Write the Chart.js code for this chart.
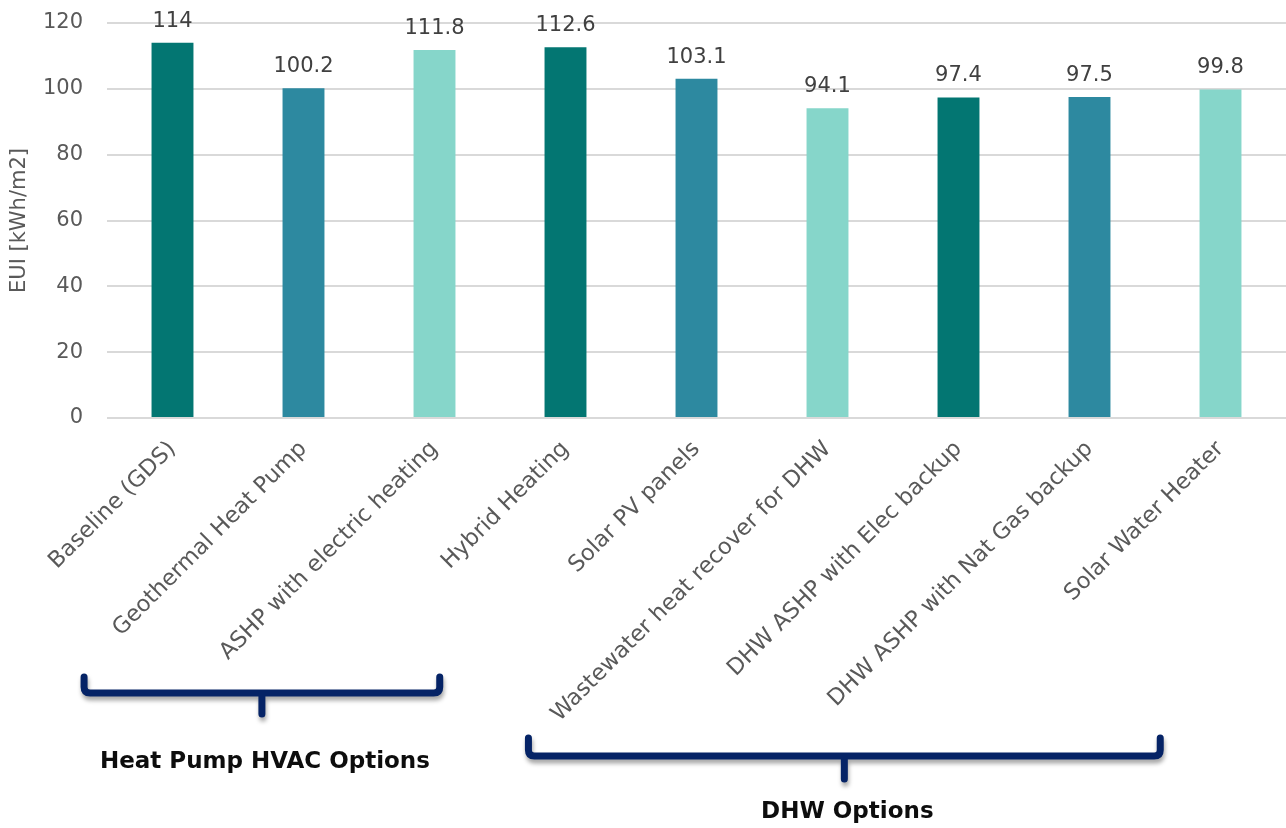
<!DOCTYPE html>
<html>
<head>
<meta charset="utf-8">
<title>EUI by retrofit option</title>
<script src="https://cdn.jsdelivr.net/npm/chart.js@4/dist/chart.umd.min.js"></script>
<style>
  html, body { margin: 0; padding: 0; background: #ffffff; }
  canvas { display: block; }
</style>
</head>
<body>
<canvas id="chart" width="1286" height="828"></canvas>
<script>
// Energy use intensity for each option
const categories = [
  'Baseline (GDS)',
  'Geothermal Heat Pump',
  'ASHP with electric heating',
  'Hybrid Heating',
  'Solar PV panels',
  'Wastewater heat recover for DHW',
  'DHW ASHP with Elec backup',
  'DHW ASHP with Nat Gas backup',
  'Solar Water Heater'
];
const euiValues = [114, 100.2, 111.8, 112.6, 103.1, 94.1, 97.4, 97.5, 99.8];
const yTicks = [0, 20, 40, 60, 80, 100, 120];
const yTitle = 'EUI [kWh/m2]';
const groupNames = ['Heat Pump HVAC Options', 'DHW Options'];

// Bar fills cycle through three teal shades
const palette = ['#037672', '#2D89A0', '#86D6CA'];
const barColors = categories.map((_, i) => palette[i % palette.length]);

// Group brace geometry: span in category units, vertical placement in px
const braceLayout = [
  { from: -0.675, to: 2.04, top: 677, line: 693, stem: 714, textY: 762 },
  { from: 2.717, to: 7.54, top: 738, line: 756, stem: 779, textY: 812 }
];

const GRAY = '#595959';

const valueLabels = {
  id: 'valueLabels',
  afterDatasetsDraw(chart) {
    const ctx = chart.ctx;
    const meta = chart.getDatasetMeta(0);
    ctx.save();
    ctx.font = '21px "DejaVu Sans"';
    ctx.fillStyle = '#404040';
    ctx.textAlign = 'center';
    ctx.textBaseline = 'alphabetic';
    meta.data.forEach((bar, i) => {
      ctx.fillText(String(chart.data.datasets[0].data[i]), bar.x, bar.y - 16);
    });
    ctx.restore();
  }
};

const groupBraces = {
  id: 'groupBraces',
  afterDraw(chart) {
    const ctx = chart.ctx;
    const x = chart.scales.x;
    braceLayout.forEach((b, gi) => {
      const left = x.getPixelForValue(b.from);
      const right = x.getPixelForValue(b.to);
      const mid = (left + right) / 2;
      const r = 6;
      ctx.save();
      ctx.strokeStyle = '#052366';
      ctx.lineWidth = 7;
      ctx.lineCap = 'round';
      ctx.lineJoin = 'round';
      ctx.shadowColor = 'rgba(0,0,0,0.35)';
      ctx.shadowBlur = 4;
      ctx.shadowOffsetX = 1;
      ctx.shadowOffsetY = 4;
      ctx.beginPath();
      ctx.moveTo(left, b.top);
      ctx.lineTo(left, b.line - r);
      ctx.quadraticCurveTo(left, b.line, left + r, b.line);
      ctx.lineTo(right - r, b.line);
      ctx.quadraticCurveTo(right, b.line, right, b.line - r);
      ctx.lineTo(right, b.top);
      ctx.moveTo(mid, b.line);
      ctx.lineTo(mid, b.stem);
      ctx.stroke();
      ctx.restore();

      ctx.save();
      ctx.font = 'bold 23px "DejaVu Sans"';
      ctx.fillStyle = '#0d0d0d';
      ctx.textAlign = 'center';
      ctx.textBaseline = 'middle';
      ctx.fillText(groupNames[gi], mid + 3, b.textY);
      ctx.restore();
    });
  }
};

new Chart(document.getElementById('chart'), {
  type: 'bar',
  data: {
    labels: categories,
    datasets: [{
      data: euiValues,
      backgroundColor: barColors,
      borderWidth: 0,
      categoryPercentage: 1.0,
      barPercentage: 0.32
    }]
  },
  options: {
    responsive: false,
    animation: false,
    layout: { padding: { top: 23, right: 0, bottom: 0, left: 0 } },
    plugins: {
      legend: { display: false },
      tooltip: { enabled: false }
    },
    scales: {
      x: {
        grid: { display: false },
        border: { display: false },
        ticks: {
          autoSkip: false,
          maxRotation: 45,
          minRotation: 45,
          padding: 10,
          color: GRAY,
          font: { family: '"DejaVu Sans"', size: 22.5 }
        },
        afterFit(scale) {
          scale.height = 410;
          scale.paddingLeft = 0;
          scale.paddingRight = 0;
        }
      },
      y: {
        min: 0,
        max: 120,
        afterBuildTicks(scale) {
          scale.ticks = yTicks.map(v => ({ value: v }));
        },
        grid: { color: '#d9d9d9', lineWidth: 2, drawTicks: false },
        border: { display: false },
        ticks: {
          padding: 24,
          color: GRAY,
          font: { family: '"DejaVu Sans"', size: 21 }
        },
        title: {
          display: true,
          text: yTitle,
          color: GRAY,
          padding: { top: 7, bottom: 0 },
          font: { family: '"DejaVu Sans"', size: 21 }
        },
        afterFit(scale) {
          scale.width = 107;
          scale.paddingTop = 0;
          scale.paddingBottom = 0;
        }
      }
    }
  },
  plugins: [valueLabels, groupBraces]
});
</script>
</body>
</html>
